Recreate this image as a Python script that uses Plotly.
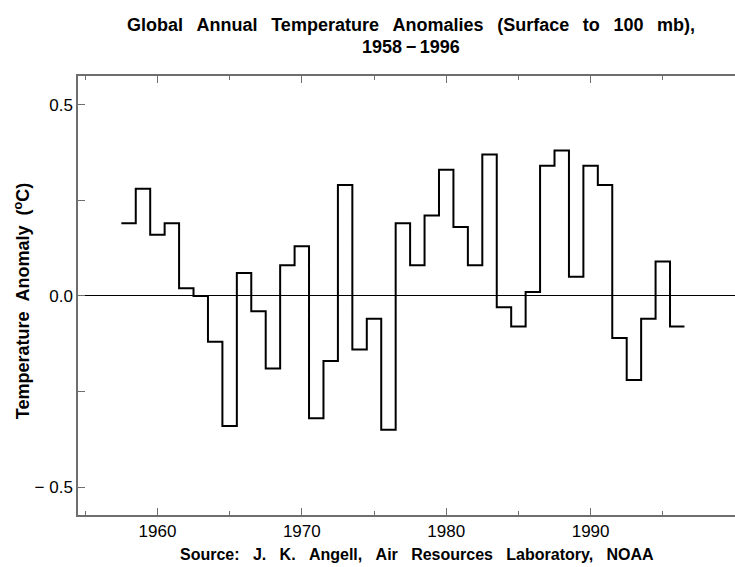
import plotly.graph_objects as go

years = list(range(1958, 1997))
anomalies = [0.19, 0.28, 0.16, 0.19, 0.02, 0.00, -0.12, -0.34, 0.06, -0.04,
             -0.19, 0.08, 0.13, -0.32, -0.17, 0.29, -0.14, -0.06, -0.35, 0.19,
             0.08, 0.21, 0.33, 0.18, 0.08, 0.37, -0.03, -0.08, 0.01, 0.34,
             0.38, 0.05, 0.34, 0.29, -0.11, -0.22, -0.06, 0.09, -0.08]
x_ticks = [1960, 1970, 1980, 1990]
x_ticklabels = ["1960", "1970", "1980", "1990"]
y_ticks = [-0.5, 0.0, 0.5]
y_ticklabels = ["\u2212 0.5", "0.0", "0.5"]

# step edges centred on each year
edges = [y - 0.5 for y in years] + [years[-1] + 0.5]
vals = anomalies + [anomalies[-1]]

def spaced(s, gap):
    return gap.join(s.split(" "))

title1 = spaced("Global Annual Temperature Anomalies (Surface to 100 mb),", "\u00a0\u00a0\u2009")
title2 = "1958\u2009\u2212\u20091996"
xtitle = spaced("Source: J. K. Angell, Air Resources Laboratory, NOAA", "\u00a0\u00a0\u00a0")
ytitle = spaced("Temperature Anomaly (<sup>o</sup>C)", "\u00a0\u00a0")

fig = go.Figure()
fig.add_trace(go.Scatter(x=edges, y=vals, mode="lines", line_shape="hv",
                         line=dict(color="black", width=2), showlegend=False,
                         hoverinfo="skip"))

axis_col = "#6e6e6e"
FONT = "Liberation Sans, Arial, sans-serif"
fig.update_layout(
    width=735, height=567,
    margin=dict(l=78, r=0, t=76, b=52, autoexpand=False),
    paper_bgcolor="white", plot_bgcolor="white",
    font=dict(family=FONT, color="black", size=17),
    xaxis=dict(range=[1954.5, 2000], tickvals=x_ticks, ticktext=x_ticklabels,
               ticks="inside", ticklen=7, tickcolor=axis_col, showline=True,
               linecolor=axis_col, linewidth=1.5, mirror="ticks", showgrid=False,
               zeroline=False, automargin=False,
               minor=dict(dtick=5, tick0=1955, ticks="inside", ticklen=4, tickcolor=axis_col),
               tickfont=dict(size=17)),
    yaxis=dict(range=[-0.573, 0.575], tickvals=y_ticks, ticktext=y_ticklabels,
               ticks="inside", ticklen=7, tickcolor=axis_col, showline=True,
               linecolor=axis_col, linewidth=1.5, showgrid=False,
               zeroline=True, zerolinecolor="black", zerolinewidth=1, automargin=False,
               minor=dict(tickvals=[-0.25, 0.25], ticks="inside", ticklen=7, tickcolor=axis_col),
               tickfont=dict(size=17)),
    annotations=[
        dict(text="<b>" + title1 + "</b>", xref="paper", yref="paper", x=0.507, y=1.116,
             xanchor="center", yanchor="middle", showarrow=False, font=dict(size=18)),
        dict(text="<b>" + title2 + "</b>", xref="paper", yref="paper", x=0.507, y=1.066,
             xanchor="center", yanchor="middle", showarrow=False, font=dict(size=18)),
        dict(text="<b>" + xtitle + "</b>", xref="paper", yref="paper", x=0.516, y=-0.091,
             xanchor="center", yanchor="middle", showarrow=False, font=dict(size=16)),
        dict(text="<b>" + ytitle + "</b>", xref="paper", yref="paper", x=-0.0852, y=0.487,
             xanchor="center", yanchor="middle", showarrow=False, textangle=-90,
             font=dict(size=18)),
    ],
)
fig.write_html("out.html", config={"displayModeBar": False},
               post_script="document.body.style.margin='0';document.body.style.overflow='hidden';")
